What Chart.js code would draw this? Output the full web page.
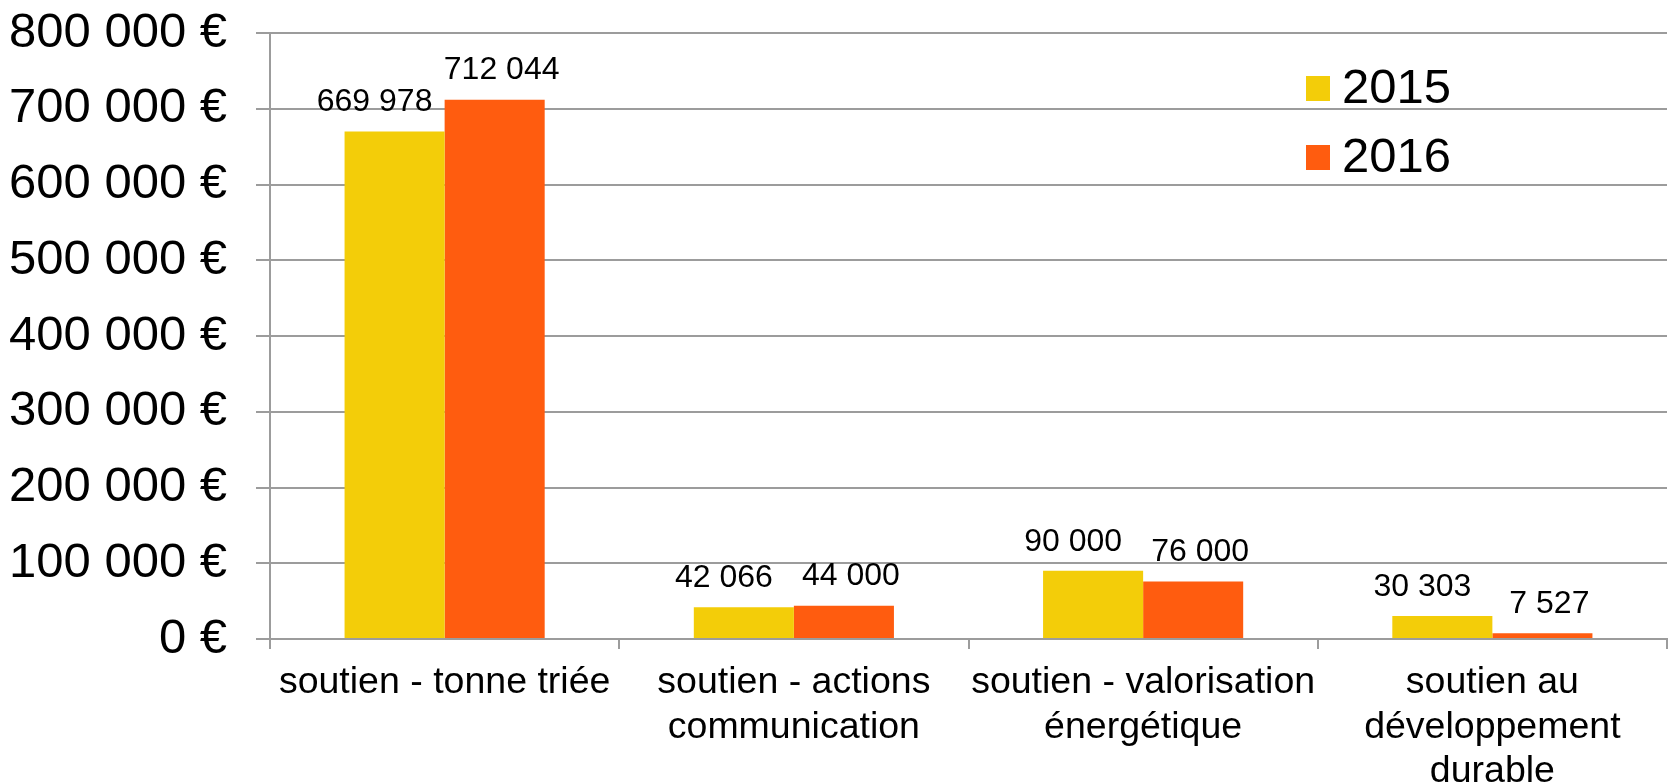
<!DOCTYPE html>
<html>
<head>
<meta charset="utf-8">
<script src="https://cdn.jsdelivr.net/npm/chart.js@4"></script>
<style>
  body { margin: 0; background: #fff; }
</style>
</head>
<body>
<canvas id="chart" width="1669" height="783"></canvas>
<script>
const categories = [
  ["soutien - tonne triée"],
  ["soutien - actions", "communication"],
  ["soutien - valorisation", "énergétique"],
  ["soutien au", "développement", "durable"],
];
const values2015 = [669978, 42066, 90000, 30303];
const values2016 = [712044, 44000, 76000, 7527];
const seriesLabels = ["2015", "2016"];
const yTicks = [0, 100000, 200000, 300000, 400000, 500000, 600000, 700000, 800000];

const FONT = "'Liberation Sans', Arial, sans-serif";
const GRID = "#9c9c9c";

function fmt(v) {
  return String(v).replace(/\B(?=(\d{3})+(?!\d))/g, " ");
}

// value labels above each bar
const barValues = {
  id: "barValues",
  afterDatasetsDraw(chart) {
    const { ctx } = chart;
    const shift = [-20, 7];
    ctx.save();
    ctx.font = "32px " + FONT;
    ctx.fillStyle = "#000";
    ctx.textAlign = "center";
    ctx.textBaseline = "middle";
    chart.data.datasets.forEach((ds, i) => {
      chart.getDatasetMeta(i).data.forEach((bar, j) => {
        ctx.fillText(fmt(ds.data[j]), bar.x + shift[i], bar.y - 29);
      });
    });
    ctx.restore();
  },
};

// legend drawn inside the plot, top right
const innerLegend = {
  id: "innerLegend",
  afterDraw(chart) {
    const { ctx, chartArea } = chart;
    const x = chartArea.right - 361;
    let y = chartArea.top + 55;
    ctx.save();
    ctx.font = "49px " + FONT;
    ctx.textBaseline = "middle";
    chart.data.datasets.forEach((ds) => {
      ctx.fillStyle = ds.backgroundColor;
      ctx.fillRect(x, y - 12, 24, 25);
      ctx.fillStyle = "#000";
      ctx.fillText(ds.label, x + 36, y + 1);
      y += 69;
    });
    ctx.restore();
  },
};

new Chart(document.getElementById("chart"), {
  type: "bar",
  data: {
    labels: categories,
    datasets: [
      { label: seriesLabels[0], data: values2015, backgroundColor: "#F3CD09" },
      { label: seriesLabels[1], data: values2016, backgroundColor: "#FF5C0F" },
    ],
  },
  options: {
    responsive: false,
    devicePixelRatio: 1,
    animation: false,
    layout: {
      padding: { top: 33, right: 2, bottom: 0, left: 0 },
    },
    datasets: {
      bar: {
        barPercentage: 1,
        categoryPercentage: 0.573,
      },
    },
    scales: {
      x: {
        offset: true,
        grid: {
          offset: true,
          drawOnChartArea: false,
          color: GRID,
          lineWidth: 2,
          tickLength: 10,
        },
        border: { color: GRID, width: 2 },
        ticks: {
          color: "#000",
          padding: 12,
          maxRotation: 0,
          autoSkip: false,
          font: { family: FONT, size: 37.5, lineHeight: 1.18 },
        },
        afterFit(scale) {
          scale.height = 144;
        },
      },
      y: {
        min: 0,
        max: 800000,
        afterBuildTicks(scale) {
          scale.ticks = yTicks.map((v) => ({ value: v }));
        },
        grid: {
          color: GRID,
          lineWidth: 2,
          tickLength: 14,
        },
        border: { color: GRID, width: 2 },
        ticks: {
          color: "#000",
          padding: 29,
          font: { family: FONT, size: 49 },
          callback: (v) => fmt(v) + " €",
        },
        afterFit(scale) {
          scale.width = 270;
          scale.paddingTop = 0;
          scale.paddingBottom = 0;
        },
      },
    },
    plugins: {
      legend: { display: false },
      tooltip: { enabled: false },
    },
  },
  plugins: [barValues, innerLegend],
});
</script>
</body>
</html>
